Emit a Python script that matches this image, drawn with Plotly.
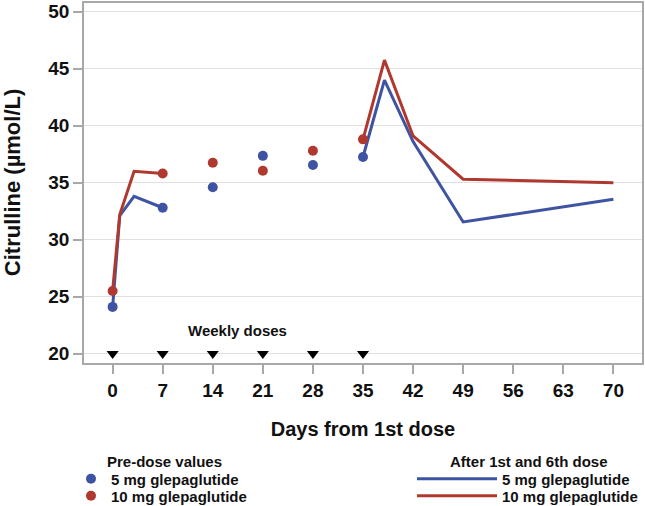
import plotly.graph_objects as go

# Pre-dose values (weekly)
pre_days = [0, 7, 14, 21, 28, 35]
pre_5mg = [24.1, 32.8, 34.6, 37.35, 36.55, 37.25]
pre_10mg = [25.5, 35.8, 36.75, 36.05, 37.8, 38.8]

# After 1st dose
post1_days = [0, 1, 3, 7]
post1_5mg = [24.1, 32.1, 33.8, 32.8]
post1_10mg = [25.5, 32.2, 36.0, 35.8]

# After 6th dose
post6_days = [35, 38, 42, 49, 70]
post6_5mg = [37.25, 44.0, 38.6, 31.55, 33.55]
post6_10mg = [38.8, 45.75, 39.1, 35.3, 35.0]

dose_days = [0, 7, 14, 21, 28, 35]
dose_level = [20, 20, 20, 20, 20, 20]

x_ticks = [0, 7, 14, 21, 28, 35, 42, 49, 56, 63, 70]
y_ticks = [20, 25, 30, 35, 40, 45, 50]

BLUE = "#3E54A3"
RED = "#B0392F"
FONT = "Liberation Sans, Arial, sans-serif"
W, H = 645, 506

fig = go.Figure()

# lines
fig.add_trace(go.Scatter(x=post1_days + [None] + post6_days,
                         y=post1_5mg + [None] + post6_5mg,
                         mode="lines", line=dict(color=BLUE, width=3),
                         name="5 mg glepaglutide", legend="legend3", connectgaps=False))
fig.add_trace(go.Scatter(x=post1_days + [None] + post6_days,
                         y=post1_10mg + [None] + post6_10mg,
                         mode="lines", line=dict(color=RED, width=3),
                         name="10 mg glepaglutide", legend="legend4", connectgaps=False))

# pre-dose markers
fig.add_trace(go.Scatter(x=pre_days, y=pre_5mg, mode="markers",
                         marker=dict(color=BLUE, size=10),
                         name="5 mg glepaglutide", legend="legend"))
fig.add_trace(go.Scatter(x=pre_days, y=pre_10mg, mode="markers",
                         marker=dict(color=RED, size=10),
                         name="10 mg glepaglutide", legend="legend2"))

# dose triangles
fig.add_trace(go.Scatter(x=dose_days, y=dose_level, mode="markers",
                         marker=dict(symbol="triangle-down", color="black", size=10.5),
                         showlegend=False, hoverinfo="skip"))

fig.add_annotation(x=17.5, y=22, text="Weekly doses", showarrow=False,
                   xanchor="center", yanchor="middle",
                   font=dict(family=FONT, size=15, color="#111111", weight="bold"))

# y-axis title
fig.add_annotation(xref="paper", yref="paper", x=(12.5 - 84) / 558, y=0.501,
                   text="Citrulline (µmol/L)", showarrow=False, textangle=-90,
                   xanchor="center", yanchor="middle",
                   font=dict(family=FONT, size=22, color="#111111", weight="bold"))

# legend group titles
fig.add_annotation(xref="paper", yref="paper", x=(164 - 84) / 558, y=(363 - 461) / 360,
                   text="Pre-dose values", showarrow=False,
                   xanchor="center", yanchor="middle",
                   font=dict(family=FONT, size=15, color="#111111", weight="bold"))
fig.add_annotation(xref="paper", yref="paper", x=(529 - 84) / 558, y=(363 - 461) / 360,
                   text="After 1st and 6th dose", showarrow=False,
                   xanchor="center", yanchor="middle",
                   font=dict(family=FONT, size=15, color="#111111", weight="bold"))


def leg(xpx, ypx, iw):
    return dict(xref="container", yref="container", x=xpx / W, y=1 - ypx / H,
                xanchor="left", yanchor="middle",
                font=dict(size=15, weight="bold", family=FONT, color="#111111"),
                itemwidth=iw, bgcolor="rgba(0,0,0,0)", borderwidth=0)


fig.update_layout(
    width=W, height=H,
    margin=dict(l=84, r=3, t=3, b=143, autoexpand=False),
    plot_bgcolor="white", paper_bgcolor="white",
    font=dict(family=FONT, color="#111111"),
    xaxis=dict(range=[-4, 74], tickvals=x_ticks, showgrid=False, zeroline=False,
               automargin=True,
               showline=True, linecolor="#A8A8A8", linewidth=1.5, mirror=True,
               ticks="outside", ticklen=9, tickcolor="#A8A8A8", tickwidth=1.5,
               tickfont=dict(size=19, weight="bold", family=FONT, color="#111111"),
               title=dict(text="Days from 1st dose", standoff=22,
                          font=dict(size=20, weight="bold", family=FONT, color="#111111"))),
    yaxis=dict(range=[19.18, 50.76], tickvals=y_ticks, showgrid=True, gridcolor="#E0E0E0",
               gridwidth=1.2, zeroline=False, automargin=False,
               showline=True, linecolor="#A8A8A8", linewidth=1.5, mirror=True,
               ticks="outside", ticklen=9, tickcolor="#A8A8A8", tickwidth=1.5,
               ticksuffix="\u00a0",
               tickfont=dict(size=19, weight="bold", family=FONT, color="#111111")),
    legend=leg(71, 479, 30),
    legend2=leg(71, 496, 30),
    legend3=leg(412, 479, 80),
    legend4=leg(412, 496, 80),
)

fig.write_html("out.html", config={"displayModeBar": False},
               post_script="document.body.style.margin='0';document.body.style.overflow='hidden';")
